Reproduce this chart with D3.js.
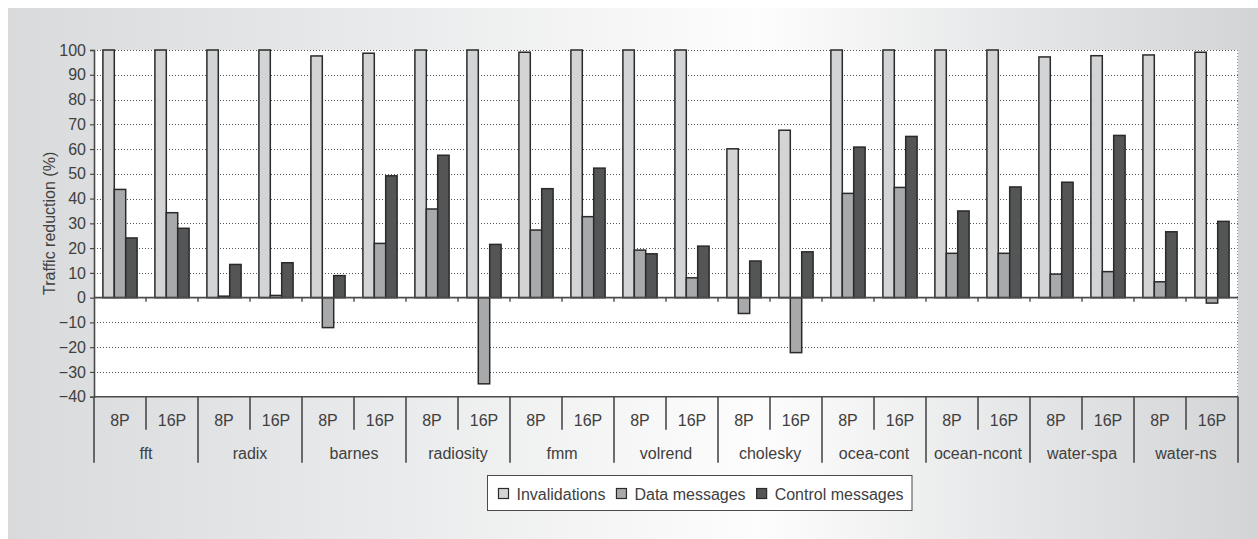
<!DOCTYPE html>
<html>
<head>
<meta charset="utf-8">
<script src="https://cdn.jsdelivr.net/npm/d3@7"></script>
<style>
  html, body { margin: 0; padding: 0; background: #fff; }
  svg { display: block; font-family: "Liberation Sans", Arial, Helvetica, sans-serif; }
</style>
</head>
<body>
<svg id="chart" width="1258" height="539"></svg>
<script>
// Benchmarks, each run with two processor counts
const benchmarks = ["fft", "radix", "barnes", "radiosity", "fmm", "volrend", "cholesky",
                    "ocea-cont", "ocean-ncont", "water-spa", "water-ns"];
const configs = ["8P", "16P"];
const seriesNames = ["Invalidations", "Data messages", "Control messages"];

// Traffic reduction (%) per benchmark/config, in benchmark order: 8P, 16P, 8P, 16P, ...
const invalidations = [100, 100, 100, 100, 97.6, 98.7, 100, 100, 99.1, 100, 100, 100,
                       60.1, 67.6, 100, 100, 100, 100, 97.2, 97.7, 98.0, 99.1];
const dataMessages = [43.7, 34.3, 0.6, 0.9, -12.1, 21.9, 35.8, -34.8, 27.3, 32.7, 19.2, 8.0,
                      -6.4, -22.2, 42.1, 44.5, 17.9, 17.9, 9.5, 10.5, 6.4, -2.2];
const controlMessages = [24.1, 28.0, 13.4, 14.1, 8.9, 49.2, 57.5, 21.5, 44.0, 52.3, 17.7, 20.8,
                         14.8, 18.5, 60.8, 65.1, 35.0, 44.7, 46.6, 65.5, 26.6, 30.8];
const yTicks = [100, 90, 80, 70, 60, 50, 40, 30, 20, 10, 0, -10, -20, -30, -40];

const seriesValues = [invalidations, dataMessages, controlMessages];
const seriesFill = ["#d3d4d5", "#a8a9ab", "#545556"];

const svg = d3.select("#chart");
const W = 1258, H = 539;

// Background panel with a horizontal grey-white-grey sheen
const defs = svg.append("defs");
const grad = defs.append("linearGradient").attr("id", "bg").attr("x1", 0).attr("x2", 1).attr("y1", 0).attr("y2", 0);
grad.append("stop").attr("offset", "0%").attr("stop-color", "#d9dadb");
grad.append("stop").attr("offset", "30%").attr("stop-color", "#e9eaeb");
grad.append("stop").attr("offset", "60%").attr("stop-color", "#fdfdfd");
grad.append("stop").attr("offset", "80%").attr("stop-color", "#e6e7e8");
grad.append("stop").attr("offset", "100%").attr("stop-color", "#d3d4d5");
svg.append("rect").attr("x", 8).attr("y", 8).attr("width", W - 8).attr("height", H - 8).attr("fill", "url(#bg)");

const left = 94, right = 1238;
const y = d3.scaleLinear().domain([-40, 100]).range([396.7, 50]);

const slots = [];
benchmarks.forEach(b => configs.forEach(c => slots.push(b + "|" + c)));
const x0 = d3.scaleBand().domain(slots).range([left, right]).padding(0);
const x1 = d3.scaleBand().domain(seriesNames).range([0, x0.bandwidth()]).paddingInner(0).paddingOuter(0.78);

const ink = "#4a4a4a";
const textCol = "#404040";
const fs = 16;

// Plot area
svg.append("rect").attr("x", left).attr("y", y(100)).attr("width", right - left).attr("height", y(-40) - y(100)).attr("fill", "#fff");

// Dotted gridlines
const grid = svg.append("g");
grid.selectAll("line").data(yTicks.filter(t => t !== 0 && t !== -40)).join("line")
  .attr("x1", left).attr("x2", right)
  .attr("y1", d => Math.round(y(d)) + 0.5).attr("y2", d => Math.round(y(d)) + 0.5)
  .attr("stroke", "#555").attr("stroke-width", 1).attr("stroke-dasharray", "1,2");
grid.append("line").attr("x1", right - 0.5).attr("x2", right - 0.5).attr("y1", y(100)).attr("y2", y(-40))
  .attr("stroke", "#888").attr("stroke-width", 1).attr("stroke-dasharray", "1,2");

// Bars
const rows = slots.map((s, i) => ({ slot: s, vals: seriesNames.map((n, k) => ({ name: n, k, v: seriesValues[k][i] })) }));
const groups = svg.append("g").selectAll("g").data(rows).join("g")
  .attr("transform", d => `translate(${x0(d.slot)},0)`);
groups.selectAll("rect").data(d => d.vals).join("rect")
  .attr("x", d => x1(d.name))
  .attr("width", x1.bandwidth())
  .attr("y", d => y(Math.max(0, d.v)))
  .attr("height", d => Math.abs(y(d.v) - y(0)))
  .attr("fill", d => seriesFill[d.k])
  .attr("stroke", "#2a2a2a").attr("stroke-width", 1.5);

// Zero line with slot tick marks
svg.append("line").attr("x1", left).attr("x2", right).attr("y1", y(0)).attr("y2", y(0))
  .attr("stroke", ink).attr("stroke-width", 1.6);
svg.append("g").selectAll("line").data(slots.slice(1)).join("line")
  .attr("x1", d => x0(d)).attr("x2", d => x0(d))
  .attr("y1", y(0)).attr("y2", y(0) + 4)
  .attr("stroke", ink).attr("stroke-width", 1.4);

// Y axis
const yAxis = d3.axisLeft(y).tickValues(yTicks).tickSize(4).tickPadding(4)
  .tickFormat(d => d < 0 ? "\u2212" + Math.abs(d) : String(d));
const ya = svg.append("g").attr("transform", `translate(${left},0)`).call(yAxis);
ya.select(".domain").attr("stroke", ink).attr("stroke-width", 1.6);
ya.selectAll(".tick line").attr("stroke", ink).attr("stroke-width", 1.2);
ya.selectAll(".tick text").attr("fill", textCol).attr("font-size", fs).attr("font-family", "Liberation Sans, Arial, sans-serif");

svg.append("text")
  .attr("transform", `translate(55,${(y(100) + y(-40)) / 2}) rotate(-90)`)
  .attr("text-anchor", "middle")
  .attr("fill", textCol).attr("font-size", fs)
  .text("Traffic reduction (%)");

// Category axis: line at -40, config labels and benchmark labels
const cat = svg.append("g");
const yb = y(-40);
cat.append("line").attr("x1", left).attr("x2", right).attr("y1", yb).attr("y2", yb)
  .attr("stroke", ink).attr("stroke-width", 1.6);
slots.forEach((s, i) => {
  if (i % 2 === 1) {
    cat.append("line").attr("x1", x0(s)).attr("x2", x0(s)).attr("y1", yb).attr("y2", yb + 33)
      .attr("stroke", ink).attr("stroke-width", 1.6);
  }
});
benchmarks.forEach(b => {
  const xs = x0(b + "|8P");
  cat.append("line").attr("x1", xs).attr("x2", xs).attr("y1", yb).attr("y2", yb + 66)
    .attr("stroke", ink).attr("stroke-width", 1.6);
});
cat.append("line").attr("x1", right).attr("x2", right).attr("y1", yb).attr("y2", yb + 66)
  .attr("stroke", ink).attr("stroke-width", 1.6);
cat.selectAll("text.cfg").data(slots).join("text").attr("class", "cfg")
  .attr("x", d => x0(d) + x0.bandwidth() / 2).attr("y", yb + 29)
  .attr("text-anchor", "middle").attr("fill", textCol).attr("font-size", fs)
  .text(d => d.split("|")[1]);
cat.selectAll("text.bench").data(benchmarks).join("text").attr("class", "bench")
  .attr("x", d => x0(d + "|8P") + x0.bandwidth()).attr("y", yb + 62)
  .attr("text-anchor", "middle").attr("fill", textCol).attr("font-size", fs)
  .text(d => d);

// Legend
const lg = svg.append("g");
lg.append("rect").attr("x", 487.5).attr("y", 475.5).attr("width", 424.5).attr("height", 35)
  .attr("fill", "#fff").attr("stroke", ink).attr("stroke-width", 1);
let lx = 498.5;
seriesNames.forEach((n, k) => {
  lg.append("rect").attr("x", lx).attr("y", 488.5).attr("width", 10).attr("height", 10)
    .attr("fill", seriesFill[k]).attr("stroke", "#2a2a2a").attr("stroke-width", 1.2);
  const t = lg.append("text").attr("x", lx + 18).attr("y", 499.5).attr("fill", textCol).attr("font-size", fs).text(n);
  lx += 18 + t.node().getComputedTextLength() + 11;
});
</script>
</body>
</html>
